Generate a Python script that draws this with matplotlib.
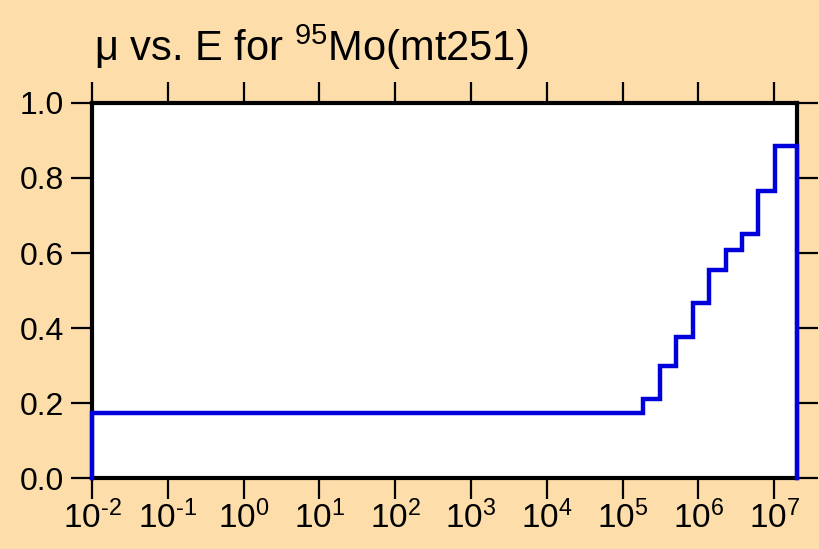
import math
import matplotlib
matplotlib.use('Agg')
import matplotlib.pyplot as plt
from matplotlib.ticker import FixedLocator, FuncFormatter

plt.rcParams['font.family'] = ['Liberation Sans', 'DejaVu Sans']
plt.rcParams['mathtext.fontset'] = 'custom'
plt.rcParams['mathtext.rm'] = 'Liberation Sans'
plt.rcParams['mathtext.it'] = 'Liberation Sans:italic'

# step edges (energy) and mu values held between them
energy = [1e-2, 1.86e5, 3.08e5, 5.1e5, 8.4e5, 1.39e6, 2.31e6, 3.79e6, 6.2e6, 1.03e7, 2.0e7]
mu = [0.1725, 0.21, 0.299, 0.375, 0.466, 0.556, 0.608, 0.651, 0.765, 0.884]
decades = [-2, -1, 0, 1, 2, 3, 4, 5, 6, 7]
y_ticks = [0.0, 0.2, 0.4, 0.6, 0.8, 1.0]

bg = '#FDDEAB'
fig = plt.figure(figsize=(8.2, 5.49), dpi=100, facecolor=bg)
ax = fig.add_axes([0.1122, 0.1293, 0.8598, 0.6831])

# outline: rise at left, steps, drop at right
xs = [energy[0]]
ys = [0.0]
for i, m in enumerate(mu):
    xs += [energy[i], energy[i + 1]]
    ys += [m, m]
xs.append(energy[-1])
ys.append(0.0)
ax.plot(xs, ys, color='#0000DD', lw=3.2, solid_joinstyle='miter', clip_on=False, zorder=5)

ax.set_xscale('log')
ax.set_xlim(energy[0], energy[-1])
ax.set_ylim(0, 1.0)
ax.xaxis.set_major_locator(FixedLocator([10.0 ** d for d in decades]))
ax.xaxis.set_minor_locator(FixedLocator([]))
ax.xaxis.set_major_formatter(FuncFormatter(
    lambda v, p: r'$\mathregular{10^{%s}}$' % str(round(math.log10(v))).replace('-', r'\text{-}')))
ax.set_yticks(y_ticks)
ax.yaxis.set_major_formatter(FuncFormatter(lambda v, p: '%.1f' % v))

ax.tick_params(axis='both', which='major', direction='out', length=15, width=1.6,
               colors='black', top=True, right=True)
ax.tick_params(axis='x', labeltop=False, labelsize=24, pad=1)
ax.tick_params(axis='y', labelright=False, labelsize=23, pad=5)
for s in ax.spines.values():
    s.set_linewidth(3.0)

ax.set_title(r'μ vs. E for $\mathregular{^{95}}$Mo(mt251)', loc='left', fontsize=30, pad=30, x=0.003)

fig.savefig('out.png', dpi=100, facecolor=bg)
